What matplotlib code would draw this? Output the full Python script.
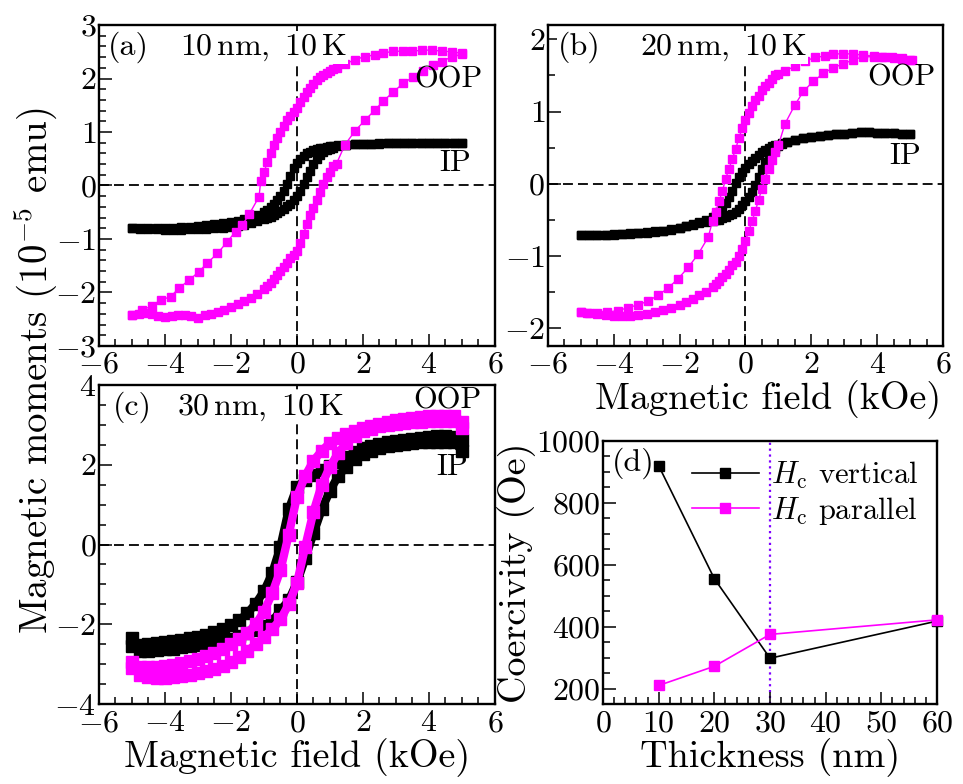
import matplotlib
matplotlib.use("Agg")
import matplotlib.pyplot as plt
from matplotlib.ticker import MultipleLocator

# ---- (a) 10 nm, 10 K ----
a_oop_dn_h = [5.0, 4.7, 4.4, 4.1, 3.8, 3.5, 3.2, 2.9, 2.6, 2.35, 2.05, 1.75, 1.45, 1.2,
              1.1, 1.0, 0.9, 0.8, 0.7, 0.6, 0.5, 0.4, 0.3, 0.2, 0.1, 0.0, -0.1, -0.2, -0.3,
              -0.4, -0.5, -0.6, -0.7, -0.8, -0.9, -1.0, -1.1,
              -1.15, -1.45, -1.66, -1.86, -2.11, -2.41, -2.72, -2.97, -3.27, -3.58, -3.83,
              -4.13, -4.4, -4.69, -5.0]
a_oop_dn_m = [2.47, 2.50, 2.51, 2.53, 2.53, 2.51, 2.51, 2.51, 2.47, 2.44, 2.41, 2.35, 2.27, 2.19,
              2.17, 2.14, 2.11, 2.06, 2.02, 1.97, 1.90, 1.83, 1.75, 1.66, 1.56, 1.45, 1.38, 1.30, 1.22,
              1.12, 1.00, 0.88, 0.75, 0.60, 0.43, 0.25, 0.08,
              -0.21, -0.54, -0.74, -0.86, -1.05, -1.27, -1.45, -1.61, -1.77, -1.92, -2.08,
              -2.14, -2.25, -2.33, -2.42]
a_oop_up_h = [-5.0, -4.8, -4.6, -4.4, -4.2, -4.0, -3.8, -3.6, -3.4, -3.2, -3.0, -2.8, -2.6, -2.4,
              -2.2, -2.0, -1.8, -1.6, -1.4, -1.2, -1.0, -0.9, -0.8, -0.7, -0.6, -0.5, -0.4, -0.3,
              -0.2, -0.1, 0.0, 0.1, 0.2, 0.3, 0.4, 0.5, 0.6, 0.7, 0.8, 0.9, 1.0, 1.1,
              1.2, 1.45, 1.76, 2.06, 2.36, 2.62, 2.92, 3.22, 3.52, 3.83, 4.13, 4.38, 4.69, 5.0]
a_oop_up_m = [-2.42, -2.40, -2.39, -2.41, -2.44, -2.45, -2.44, -2.43, -2.42, -2.44, -2.48, -2.43, -2.40, -2.36,
              -2.32, -2.28, -2.22, -2.16, -2.10, -2.02, -1.93, -1.88, -1.82, -1.75, -1.68, -1.60, -1.52, -1.44,
              -1.36, -1.30, -1.22, -1.08, -0.90, -0.72, -0.56, -0.42, -0.28, -0.12, 0.02, 0.15, 0.25, 0.36,
              0.41, 0.76, 1.02, 1.22, 1.41, 1.58, 1.75, 1.91, 2.03, 2.14, 2.25, 2.31, 2.41, 2.45]
a_ip_dn_h = [5.0, 4.75, 4.5, 4.25, 4.0, 3.75, 3.5, 3.25, 3.0, 2.75, 2.5, 2.25, 2.0, 1.75, 1.5, 1.25,
             1.1, 1.0, 0.9, 0.8, 0.7, 0.6, 0.5, 0.4, 0.3, 0.2, 0.1, 0.0, -0.1, -0.2, -0.3, -0.4,
             -0.5, -0.6, -0.7, -0.8, -0.9, -1.0, -1.2, -1.4, -1.6, -1.8, -2.0, -2.25, -2.5,
             -2.75, -3.0, -3.25, -3.5, -3.75, -4.0, -4.25, -4.5, -4.75, -5.0]
a_ip_dn_m = [0.79, 0.79, 0.79, 0.79, 0.79, 0.79, 0.79, 0.79, 0.79, 0.79, 0.78, 0.78, 0.78, 0.77, 0.76, 0.75,
             0.74, 0.73, 0.72, 0.71, 0.70, 0.68, 0.66, 0.63, 0.60, 0.56, 0.50, 0.42, 0.32, 0.18, 0.03, -0.10,
             -0.20, -0.28, -0.35, -0.40, -0.45, -0.49, -0.55, -0.60, -0.63, -0.66, -0.68, -0.70, -0.72,
             -0.74, -0.76, -0.77, -0.78, -0.79, -0.80, -0.80, -0.80, -0.80, -0.80]
a_ip_up_h = [-5.0, -4.75, -4.5, -4.25, -4.0, -3.75, -3.5, -3.25, -3.0, -2.75, -2.5, -2.25, -2.0,
             -1.8, -1.6, -1.4, -1.2, -1.0, -0.9, -0.8, -0.7, -0.6, -0.5, -0.4, -0.3, -0.2, -0.1,
             0.0, 0.1, 0.2, 0.3, 0.4, 0.5, 0.6, 0.7, 0.8, 0.9, 1.0, 1.1, 1.25, 1.5, 1.75, 2.0,
             2.25, 2.5, 2.75, 3.0, 3.25, 3.5, 3.75, 4.0, 4.25, 4.5, 4.75, 5.0]
a_ip_up_m = [-0.80, -0.81, -0.82, -0.82, -0.83, -0.83, -0.83, -0.82, -0.82, -0.81, -0.80, -0.79, -0.77,
             -0.75, -0.73, -0.70, -0.67, -0.63, -0.61, -0.58, -0.55, -0.52, -0.48, -0.44, -0.39, -0.34, -0.28,
             -0.20, -0.10, 0.02, 0.15, 0.28, 0.40, 0.50, 0.57, 0.62, 0.66, 0.69, 0.71, 0.73, 0.76, 0.77, 0.78,
             0.78, 0.79, 0.79, 0.79, 0.79, 0.79, 0.79, 0.79, 0.79, 0.79, 0.79, 0.79]

# ---- (b) 20 nm, 10 K ----
b_oop_dn_h = [5.05, 4.75, 4.44, 4.14, 3.89, 3.58, 3.28, 2.97, 2.67, 2.42, 2.11, 1.81, 1.5, 1.2,
              1.0, 0.9, 0.8, 0.7, 0.6, 0.5, 0.4, 0.3, 0.2, 0.1, 0.0, -0.1, -0.2, -0.3, -0.4,
              -0.5, -0.6, -0.7, -0.8, -0.9, -1.0,
              -1.13, -1.44, -1.74, -2.05, -2.36, -2.66, -2.97, -3.27, -3.57, -3.88, -4.2, -4.5, -4.8, -5.0]
b_oop_dn_m = [1.72, 1.74, 1.75, 1.76, 1.77, 1.78, 1.80, 1.80, 1.80, 1.77, 1.75, 1.70, 1.63, 1.56,
              1.52, 1.50, 1.45, 1.40, 1.35, 1.30, 1.22, 1.16, 1.08, 0.98, 0.88, 0.77, 0.63, 0.48, 0.34,
              0.21, 0.07, -0.10, -0.24, -0.39, -0.52,
              -0.74, -0.98, -1.16, -1.32, -1.45, -1.55, -1.63, -1.68, -1.72, -1.76, -1.78, -1.79, -1.79, -1.78]
b_oop_up_h = [-5.0, -4.75, -4.5, -4.25, -4.0, -3.75, -3.5, -3.25, -3.0, -2.75, -2.5, -2.25, -2.0,
              -1.8, -1.6, -1.4, -1.2, -1.0, -0.9, -0.8, -0.7, -0.6, -0.5, -0.4, -0.3, -0.2, -0.1,
              0.0, 0.1, 0.2, 0.3, 0.4, 0.5, 0.6, 0.7, 0.8, 0.9, 1.0,
              1.2, 1.5, 1.76, 2.06, 2.37, 2.67, 2.97, 3.28, 3.58, 3.89, 4.2, 4.5, 4.75, 5.0]
b_oop_up_m = [-1.78, -1.79, -1.80, -1.82, -1.84, -1.84, -1.84, -1.82, -1.80, -1.78, -1.75, -1.72, -1.68,
              -1.64, -1.60, -1.55, -1.50, -1.43, -1.39, -1.35, -1.30, -1.25, -1.19, -1.13, -1.08, -1.00, -0.90,
              -0.79, -0.66, -0.52, -0.38, -0.22, -0.07, 0.07, 0.20, 0.33, 0.44, 0.53,
              0.83, 1.09, 1.28, 1.42, 1.53, 1.61, 1.66, 1.72, 1.76, 1.76, 1.75, 1.74, 1.73, 1.72]
b_ip_dn_h = [5.0, 4.75, 4.5, 4.25, 4.0, 3.75, 3.5, 3.25, 3.0, 2.75, 2.5, 2.25, 2.0, 1.75, 1.5, 1.25,
             1.1, 1.0, 0.9, 0.8, 0.7, 0.6, 0.5, 0.4, 0.3, 0.2, 0.1, 0.0, -0.1, -0.2, -0.3, -0.4,
             -0.5, -0.6, -0.7, -0.8, -0.9, -1.0, -1.2, -1.4, -1.6, -1.8, -2.0, -2.25, -2.5,
             -2.75, -3.0, -3.25, -3.5, -3.75, -4.0, -4.25, -4.5, -4.75, -5.0]
b_ip_dn_m = [0.69, 0.69, 0.70, 0.70, 0.70, 0.71, 0.71, 0.70, 0.69, 0.69, 0.68, 0.66, 0.65, 0.63, 0.61, 0.58,
             0.56, 0.54, 0.53, 0.52, 0.50, 0.47, 0.44, 0.40, 0.36, 0.32, 0.27, 0.22, 0.16, 0.09, 0.01, -0.10,
             -0.19, -0.27, -0.34, -0.39, -0.43, -0.46, -0.50, -0.53, -0.56, -0.59, -0.62, -0.64, -0.66,
             -0.67, -0.68, -0.69, -0.70, -0.70, -0.71, -0.71, -0.71, -0.71, -0.71]
b_ip_up_h = [-5.0, -4.75, -4.5, -4.25, -4.0, -3.75, -3.5, -3.25, -3.0, -2.75, -2.5, -2.25, -2.0,
             -1.8, -1.6, -1.4, -1.2, -1.0, -0.9, -0.8, -0.7, -0.6, -0.5, -0.4, -0.3, -0.2, -0.1,
             0.0, 0.1, 0.2, 0.3, 0.4, 0.5, 0.6, 0.7, 0.8, 0.9, 1.0, 1.1, 1.25, 1.5, 1.75, 2.0,
             2.25, 2.5, 2.75, 3.0, 3.25, 3.5, 3.75, 4.0, 4.25, 4.5, 4.75, 5.0]
b_ip_up_m = [-0.71, -0.71, -0.71, -0.71, -0.70, -0.70, -0.69, -0.68, -0.67, -0.66, -0.65, -0.63, -0.61,
             -0.59, -0.57, -0.55, -0.53, -0.52, -0.51, -0.50, -0.48, -0.46, -0.44, -0.42, -0.39, -0.35, -0.30,
             -0.24, -0.18, -0.11, -0.02, 0.09, 0.20, 0.30, 0.38, 0.44, 0.48, 0.52, 0.55, 0.58, 0.61, 0.63, 0.65,
             0.66, 0.68, 0.69, 0.69, 0.70, 0.71, 0.71, 0.70, 0.70, 0.70, 0.69, 0.69]

# ---- (c) 30 nm, 10 K (all branches on one field grid) ----
c_h = [-5.0, -4.75, -4.5, -4.25, -4.0, -3.75, -3.5, -3.25, -3.0, -2.75, -2.5, -2.25, -2.0, -1.75,
       -1.5, -1.25, -1.0, -0.75, -0.5, -0.25, 0.0, 0.25, 0.5, 0.75, 1.0, 1.25, 1.5, 1.75, 2.0,
       2.25, 2.5, 2.75, 3.0, 3.25, 3.5, 3.75, 4.0, 4.25, 4.5, 4.75, 5.0]
c_oop_dn = [-3.10, -3.08, -3.08, -3.07, -3.05, -3.02, -2.98, -2.93, -2.87, -2.80, -2.72, -2.62, -2.50, -2.38,
            -2.22, -2.00, -1.68, -1.22, -0.64, 0.25, 1.20, 1.72, 2.10, 2.35, 2.55, 2.68, 2.77, 2.85, 2.92,
            2.98, 3.03, 3.08, 3.12, 3.15, 3.18, 3.20, 3.22, 3.23, 3.23, 3.22, 2.92]
c_oop_up = [-2.95, -3.28, -3.32, -3.34, -3.34, -3.32, -3.30, -3.27, -3.23, -3.18, -3.12, -3.05, -2.95, -2.82,
            -2.67, -2.50, -2.33, -2.12, -1.88, -1.50, -0.97, -0.05, 0.82, 1.50, 1.95, 2.30, 2.55, 2.72, 2.84,
            2.90, 2.96, 3.00, 3.03, 3.05, 3.07, 3.08, 3.09, 3.10, 3.10, 3.10, 3.08]
c_ip_dn = [-2.55, -2.52, -2.50, -2.48, -2.45, -2.42, -2.39, -2.35, -2.31, -2.26, -2.20, -2.12, -2.03, -1.90,
           -1.72, -1.48, -1.17, -0.72, -0.05, 0.88, 1.45, 1.62, 1.75, 1.86, 1.96, 2.07, 2.20, 2.32, 2.42,
           2.48, 2.53, 2.57, 2.60, 2.63, 2.65, 2.67, 2.70, 2.71, 2.71, 2.70, 2.62]
c_ip_up = [-2.35, -2.66, -2.66, -2.65, -2.63, -2.61, -2.58, -2.55, -2.52, -2.49, -2.45, -2.40, -2.36, -2.30,
           -2.23, -2.15, -2.05, -1.93, -1.65, -1.40, -0.95, -0.35, 0.28, 0.88, 1.35, 1.72, 1.95, 2.15, 2.27,
           2.35, 2.42, 2.47, 2.50, 2.52, 2.54, 2.56, 2.57, 2.58, 2.58, 2.58, 2.35]

# ---- (d) coercivity vs thickness ----
thickness = [10, 20, 30, 60]
hc_vertical = [920, 555, 298, 418]
hc_parallel = [210, 272, 375, 422]

MAG = "#ff00ff"
BLK = "black"

plt.rcParams.update({
    "font.family": "serif",
    "font.serif": ["cmr10"],
    "mathtext.fontset": "cm",
    "axes.formatter.use_mathtext": True,
    "axes.unicode_minus": True,
    "xtick.direction": "in",
    "ytick.direction": "in",
})

fig = plt.figure(figsize=(9.63, 7.84), dpi=100)
ax_a = fig.add_axes([0.1028, 0.5587, 0.4112, 0.4094])
ax_b = fig.add_axes([0.5690, 0.5587, 0.4102, 0.4094])
ax_c = fig.add_axes([0.1028, 0.1020, 0.4112, 0.4069])
ax_d = fig.add_axes([0.6262, 0.1020, 0.3468, 0.3355])

FS_TICK = 23
FS_TAG = 23
FS_TEXT = 22
FS_LABEL = 27.5
DASH = (0, (5.5, 2.8))


def style(ax, xmaj, xmin, ymaj, ymin):
    ax.xaxis.set_major_locator(MultipleLocator(xmaj))
    ax.xaxis.set_minor_locator(MultipleLocator(xmin))
    ax.yaxis.set_major_locator(MultipleLocator(ymaj))
    ax.yaxis.set_minor_locator(MultipleLocator(ymin))
    ax.tick_params(which="both", top=False, right=False, width=1.1, labelsize=FS_TICK)
    ax.tick_params(which="major", length=9)
    ax.tick_params(which="minor", length=5)
    ax.tick_params(axis="x", pad=4)
    ax.tick_params(axis="y", pad=2)
    for s in ax.spines.values():
        s.set_linewidth(1.7)


def tags(ax, tag, x_tag, title, x_title):
    ax.text(x_tag, 0.93, tag, transform=ax.transAxes, fontsize=FS_TAG, va="center", ha="left",
            zorder=4, bbox=dict(fc="white", ec="none", pad=1))
    ax.text(x_title, 0.93, title, transform=ax.transAxes, fontsize=FS_TAG, va="center", ha="left",
            zorder=4, bbox=dict(fc="white", ec="none", pad=1))


def zero_lines(ax):
    ax.axhline(0, color="k", lw=1.3, ls=DASH, zorder=1)
    ax.axvline(0, color="k", lw=1.3, ls=DASH, zorder=1)


# (a)
zero_lines(ax_a)
for h, m, c in [(a_ip_dn_h, a_ip_dn_m, BLK), (a_ip_up_h, a_ip_up_m, BLK),
                (a_oop_dn_h, a_oop_dn_m, MAG), (a_oop_up_h, a_oop_up_m, MAG)]:
    ax_a.plot(h, m, color=c, marker="s", ms=6, lw=1.0, mec=c, zorder=2)
tags(ax_a, "(a)", 0.023, r"$10\,\mathrm{nm},\ 10\,\mathrm{K}$", 0.205)
ax_a.set_xlim(-6, 6)
ax_a.set_ylim(-3, 3)
style(ax_a, 2, 0.5, 1, 0.2)
ax_a.text(4.6, 1.97, "OOP", fontsize=FS_TEXT, ha="center", va="center", zorder=4)
ax_a.text(4.8, 0.42, "IP", fontsize=FS_TEXT, ha="center", va="center", zorder=4)

# (b)
zero_lines(ax_b)
for h, m, c in [(b_ip_dn_h, b_ip_dn_m, BLK), (b_ip_up_h, b_ip_up_m, BLK),
                (b_oop_dn_h, b_oop_dn_m, MAG), (b_oop_up_h, b_oop_up_m, MAG)]:
    ax_b.plot(h, m, color=c, marker="s", ms=6, lw=1.0, mec=c, zorder=2)
tags(ax_b, "(b)", 0.025, r"$20\,\mathrm{nm},\ 10\,\mathrm{K}$", 0.233)
ax_b.set_xlim(-6, 6)
ax_b.set_ylim(-2.25, 2.2)
style(ax_b, 2, 0.5, 1, 0.5)
ax_b.text(4.75, 1.47, "OOP", fontsize=FS_TEXT, ha="center", va="center", zorder=4)
ax_b.text(4.85, 0.38, "IP", fontsize=FS_TEXT, ha="center", va="center", zorder=4)
ax_b.set_xlabel("Magnetic field (kOe)", fontsize=FS_LABEL, labelpad=1)
ax_b.xaxis.label.set_x(0.557)

# (c)
zero_lines(ax_c)
for m, c in [(c_ip_dn, BLK), (c_ip_up, BLK), (c_oop_dn, MAG), (c_oop_up, MAG)]:
    ax_c.plot(c_h, m, color=c, marker="s", ms=8, lw=6, mec=c, zorder=2)
tags(ax_c, "(c)", 0.036, r"$30\,\mathrm{nm},\ 10\,\mathrm{K}$", 0.197)
ax_c.text(4.55, 3.6, "OOP", fontsize=FS_TEXT, ha="center", va="center", zorder=4)
ax_c.text(4.7, 1.94, "IP", fontsize=FS_TEXT, ha="center", va="center", zorder=4)
ax_c.set_xlim(-6, 6)
ax_c.set_ylim(-4, 4)
style(ax_c, 2, 0.5, 2, 0.5)
ax_c.set_xlabel("Magnetic field (kOe)", fontsize=FS_LABEL, labelpad=1)

# (d)
ax_d.plot(thickness, hc_vertical, color=BLK, marker="s", ms=6.5, lw=1.2, label=r"$H_\mathrm{c}$ vertical",
          clip_on=False, zorder=3)
ax_d.plot(thickness, hc_parallel, color=MAG, marker="s", ms=6.5, lw=1.2, label=r"$H_\mathrm{c}$ parallel",
          clip_on=False, zorder=3)
ax_d.axvline(30, color="#7f00ff", ls=":", lw=1.6, zorder=1)
ax_d.set_xlim(0, 60)
ax_d.set_ylim(150, 1000)
style(ax_d, 10, 2, 200, 50)
ax_d.text(0.027, 0.916, "(d)", transform=ax_d.transAxes, fontsize=FS_TAG, va="center", ha="left")
ax_d.legend(loc="upper right", fontsize=FS_TEXT, frameon=False, handlelength=2.2,
            handletextpad=0.4, labelspacing=0.15, borderaxespad=0.2)
ax_d.set_xlabel("Thickness (nm)", fontsize=FS_LABEL, labelpad=1)
ax_d.set_ylabel("Coercivity (Oe)", fontsize=FS_LABEL, labelpad=0)

fig.text(0.036, 0.527, r"Magnetic moments ($10^{-5}$ emu)", rotation=90, fontsize=FS_LABEL + 0.5,
         ha="center", va="center")

fig.savefig("out.png", dpi=100)
